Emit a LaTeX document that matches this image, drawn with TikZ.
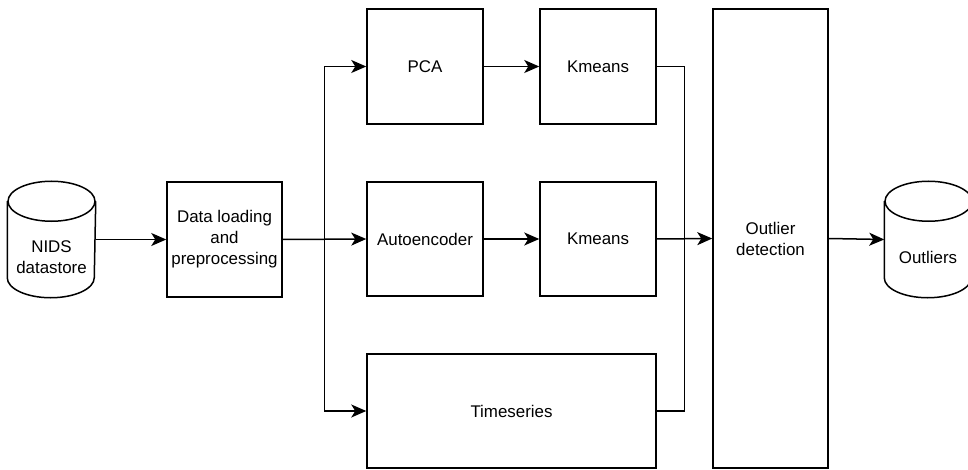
\documentclass[tikz,border=0pt]{standalone}
\usepackage{fontspec}
\setmainfont{Liberation Sans}
\usetikzlibrary{arrows.meta,calc}
\begin{document}
\begin{tikzpicture}[x=1pt,y=1pt,
  line width=1.5pt,
  font=\fontsize{16.9}{21}\selectfont,
  box/.style={draw,rectangle,align=center,inner sep=0pt},
  ghost/.style={rectangle,inner sep=0pt},
  lbl/.style={align=center,inner sep=0pt},
  arr/.style={-{Stealth[length=15pt,width=13pt,inset=4pt]}},
  cyl/.style={draw,line width=1.5pt}
]
\useasboundingbox (0,0) rectangle (968,469);
% cylinders (invisible frames)
\node[ghost,minimum width=87,minimum height=115] (nids) at (51.5,229.5) {};
\node[ghost,minimum width=87,minimum height=115] (outl) at (928.5,229.5) {};
% cylinder shapes
\foreach \c in {nids,outl}{
  \draw[cyl,fill=white] ($(\c.north west)+(0,-20)$) -- ($(\c.south west)+(0,20)$)
     arc[start angle=180,end angle=360,x radius=43.5,y radius=20]
     -- ($(\c.north east)+(0,-20)$);
  \draw[cyl] ($(\c.north)+(0,-20)$) ellipse[x radius=43.5,y radius=20];
}
\node[lbl] (nidstext) at (51.5,211.5) {NIDS\\datastore};
\node[lbl] (outltext) at (928,212) {Outliers};
% boxes
\node[box,minimum width=115,minimum height=115] (data) at (224.5,229.5) {Data loading\\and\\preprocessing};
\node[box,minimum width=116,minimum height=115] (pca) at (425,402.5) {PCA};
\node[box,minimum width=116,minimum height=115] (km1) at (598,402.5) {Kmeans};
\node[box,minimum width=116,minimum height=114] (ae) at (425,230) {Autoencoder};
\node[box,minimum width=116,minimum height=114] (km2) at (598,230) {Kmeans};
\node[box,minimum width=289,minimum height=114] (ts) at (511.5,58) {Timeseries};
\node[box,minimum width=115,minimum height=459] (od) at (770.5,230.5) {Outlier\\detection};
% helper coordinates
\coordinate (fork) at (324.5,229.5);
\coordinate (join) at (684.5,229.5);
% connectors
\draw[arr] (nids.east) -- (data.west);
\draw[arr] (data.east) -- (ae.west);
\draw[arr] (data.east) -- (fork) |- (pca.west);
\draw[arr] (fork) |- (ts.west);
\draw[arr] (pca.east) -- (km1.west);
\draw[arr] (ae.east) -- (km2.west);
\draw (km1.east) -| (join);
\draw (ts.east) -| (join);
\draw[arr] (km2.east) -- (od.west);
\draw[arr] (od.east) -- (outl.west);
\end{tikzpicture}
\end{document}
